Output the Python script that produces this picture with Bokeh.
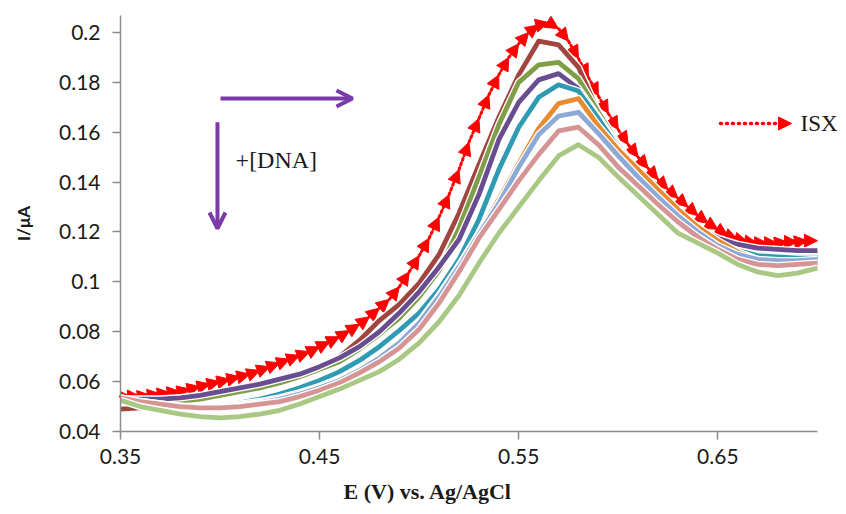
import numpy as np
from bokeh.plotting import figure
from bokeh.models import (ColumnDataSource, Arrow, NormalHead, OpenHead, Label, Title,
                          Range1d, FixedTicker)
from bokeh.embed import file_html
from bokeh.resources import INLINE

# ---------------- data ----------------
x_fine = [round(0.35 + 0.005 * i, 3) for i in range(71)]   # ISX sampled every 5 mV
x_grid = [round(0.35 + 0.01 * i, 2) for i in range(36)]    # DNA titration curves

isx = [0.054, 0.054, 0.054, 0.0545, 0.055, 0.0555, 0.056, 0.057, 0.058, 0.059,
       0.060, 0.061, 0.062, 0.063, 0.0645, 0.066, 0.0675, 0.069, 0.0705, 0.072,
       0.074, 0.076, 0.078, 0.0805, 0.083, 0.086, 0.0895, 0.093, 0.098, 0.104,
       0.1105, 0.1175, 0.126, 0.135, 0.145, 0.156, 0.1655, 0.175, 0.183, 0.190,
       0.1955, 0.200, 0.203, 0.204, 0.2015, 0.1965, 0.1895, 0.182, 0.1745, 0.1675,
       0.161, 0.155, 0.150, 0.1455, 0.141, 0.137, 0.1335, 0.130, 0.1265, 0.1235,
       0.121, 0.1185, 0.117, 0.116, 0.1155, 0.1155, 0.1155, 0.116, 0.116, 0.1165,
       0.1165]

dna1 = [0.049, 0.0495, 0.051, 0.053, 0.054, 0.0555, 0.057, 0.0585, 0.0605, 0.0628,
        0.0658, 0.070, 0.0765, 0.0845, 0.091, 0.0995, 0.111, 0.1275, 0.147, 0.166,
        0.183, 0.1965, 0.195, 0.186, 0.168, 0.154, 0.143, 0.134, 0.127, 0.121,
        0.116, 0.113, 0.111, 0.1105, 0.1105, 0.111]
dna2 = [0.0525, 0.0515, 0.051, 0.052, 0.053, 0.0545, 0.056, 0.0575, 0.0595, 0.062,
        0.065, 0.068, 0.073, 0.079, 0.0855, 0.094, 0.1045, 0.1215, 0.142, 0.163,
        0.180, 0.187, 0.188, 0.1815, 0.168, 0.155, 0.1435, 0.134, 0.126, 0.1205,
        0.116, 0.1125, 0.1105, 0.110, 0.110, 0.110]
dna3 = [0.053, 0.053, 0.053, 0.0535, 0.0545, 0.056, 0.0575, 0.059, 0.061, 0.063,
        0.066, 0.0695, 0.074, 0.080, 0.0875, 0.096, 0.106, 0.117, 0.135, 0.157,
        0.172, 0.181, 0.1835, 0.1775, 0.166, 0.1545, 0.1435, 0.1345, 0.127, 0.1215,
        0.1175, 0.115, 0.1135, 0.113, 0.1125, 0.1125]
dna4 = [0.0525, 0.0515, 0.0505, 0.050, 0.050, 0.0505, 0.0515, 0.053, 0.055, 0.0575,
        0.0605, 0.064, 0.0685, 0.074, 0.0805, 0.0875, 0.097, 0.109, 0.125, 0.145,
        0.162, 0.174, 0.179, 0.1765, 0.1655, 0.1535, 0.1435, 0.134, 0.1265, 0.1205,
        0.1155, 0.1125, 0.1105, 0.110, 0.1095, 0.1095]
dna5 = [0.0535, 0.052, 0.051, 0.050, 0.050, 0.050, 0.051, 0.052, 0.0535, 0.0555,
        0.058, 0.061, 0.065, 0.070, 0.076, 0.084, 0.0945, 0.1065, 0.1195, 0.133,
        0.1475, 0.1615, 0.1715, 0.1735, 0.1625, 0.153, 0.145, 0.137, 0.129, 0.122,
        0.1165, 0.112, 0.109, 0.1075, 0.107, 0.107]
dna6 = [0.053, 0.0515, 0.0505, 0.050, 0.0495, 0.050, 0.0505, 0.0515, 0.053, 0.055,
        0.0575, 0.0605, 0.0645, 0.0695, 0.0755, 0.0835, 0.094, 0.106, 0.119, 0.1315,
        0.146, 0.159, 0.1665, 0.168, 0.1595, 0.1505, 0.142, 0.134, 0.1265, 0.12,
        0.1145, 0.111, 0.109, 0.1085, 0.1085, 0.109]
dna7 = [0.0535, 0.052, 0.051, 0.050, 0.0495, 0.0495, 0.050, 0.051, 0.052, 0.054,
        0.0565, 0.0595, 0.0635, 0.068, 0.0735, 0.081, 0.0915, 0.104, 0.1175, 0.129,
        0.1405, 0.151, 0.1605, 0.162, 0.155, 0.146, 0.1385, 0.131, 0.124, 0.118,
        0.113, 0.109, 0.107, 0.1065, 0.107, 0.1075]
dna8 = [0.0525, 0.050, 0.0485, 0.047, 0.046, 0.0455, 0.046, 0.047, 0.0485, 0.051,
        0.054, 0.057, 0.0605, 0.064, 0.069, 0.0755, 0.084, 0.0945, 0.1075, 0.1195,
        0.130, 0.1405, 0.1505, 0.155, 0.150, 0.142, 0.1345, 0.127, 0.1195, 0.1155,
        0.1115, 0.107, 0.104, 0.1025, 0.1035, 0.1055]

dna_series = [dna1, dna2, dna3, dna4, dna5, dna6, dna7, dna8]
dna_colors = ["#A0453F", "#7F9E47", "#684E91", "#2E9BB3",
              "#E88A2E", "#8DAAD6", "#D49594", "#A9C883"]

x_ticks = [0.35, 0.45, 0.55, 0.65]
x_tick_labels = ["0.35", "0.45", "0.55", "0.65"]
y_ticks = [0.04, 0.06, 0.08, 0.10, 0.12, 0.14, 0.16, 0.18, 0.20]
y_tick_labels = ["0.04", "0.06", "0.08", "0.1", "0.12", "0.14", "0.16", "0.18", "0.2"]

# ---------------- figure ----------------
p = figure(width=846, height=514, output_backend="svg", toolbar_location=None,
           x_range=Range1d(0.35, 0.7146), y_range=Range1d(0.04, 0.2068),
           min_border_left=120, min_border_right=0, min_border_top=15,
           min_border_bottom=83)
p.background_fill_color = "white"
p.border_fill_color = "white"
p.outline_line_color = None
p.xgrid.visible = False
p.ygrid.visible = False

for ax in (p.xaxis[0], p.yaxis[0]):
    ax.axis_line_color = "#8C8C8C"
    ax.axis_line_width = 1.5
    ax.major_tick_line_color = "#8C8C8C"
    ax.major_tick_line_width = 1.5
    ax.major_tick_out = 8
    ax.major_tick_in = 0
    ax.minor_tick_line_color = None
    ax.major_label_text_font = "Lato"
    ax.major_label_text_font_size = "21px"
    ax.major_label_text_color = "#1a1a1a"

p.xaxis.bounds = (0.35, 0.70)
p.xaxis.ticker = FixedTicker(ticks=x_ticks)
p.xaxis.major_label_overrides = dict(zip(x_ticks, x_tick_labels))
p.xaxis.major_label_standoff = 9
p.yaxis.ticker = FixedTicker(ticks=y_ticks)
p.yaxis.major_label_overrides = dict(zip(y_ticks, y_tick_labels))
p.yaxis.major_label_standoff = 12
p.yaxis.axis_label = "I/μA"
p.yaxis.axis_label_text_font = "Lato"
p.yaxis.axis_label_text_font_style = "bold"
p.yaxis.axis_label_text_font_size = "17px"
p.yaxis.axis_label_text_color = "#1a1a1a"
p.yaxis.axis_label_standoff = 22

# x-axis title, placed left of centre as in the original
p.add_layout(Title(text="E (V) vs. Ag/AgCl", align="left", offset=223,
                   text_font="Liberation Serif", text_font_style="bold",
                   text_font_size="22px", text_color="#1a1a1a", standoff=21), "below")

# ISX: dotted red line with an arrowhead at the end of every segment
isx_src = ColumnDataSource(dict(x0=x_fine[:-1], y0=isx[:-1], x1=x_fine[1:], y1=isx[1:]))
p.add_layout(Arrow(end=NormalHead(size=13, fill_color="#FF0000", line_color="#FF0000",
                                  line_width=1),
                   x_start="x0", y_start="y0", x_end="x1", y_end="y1", source=isx_src,
                   line_color="#FF0000", line_width=3, line_dash="2 3", line_cap="round",
                   level="underlay"))

# titration curves, each with a thin white halo
for ys, c in zip(dna_series, dna_colors):
    p.line(x_grid, ys, line_color="white", line_width=7.5, line_join="round")
    p.line(x_grid, ys, line_color=c, line_width=4.8, line_join="round")

# ---------------- annotations ----------------
purple = "#7A3BA8"
p.add_layout(Arrow(end=OpenHead(size=16, line_color=purple, line_width=4),
                   x_start=0.4002, y_start=0.1735, x_end=0.4665, y_end=0.1735,
                   line_color=purple, line_width=4))
p.add_layout(Arrow(end=OpenHead(size=16, line_color=purple, line_width=4),
                   x_start=0.3987, y_start=0.1640, x_end=0.3987, y_end=0.1214,
                   line_color=purple, line_width=4))
p.add_layout(Label(x=0.4078, y=0.1487, text="+[DNA]", text_font="Liberation Serif",
                   text_font_size="24px", text_color="#1a1a1a", text_baseline="middle"))

# legend entry for ISX
p.add_layout(Arrow(end=NormalHead(size=13, fill_color="#FF0000", line_color="#FF0000"),
                   x_start=0.6513, y_start=0.1635, x_end=0.6870, y_end=0.1635,
                   line_color="#FF0000", line_width=3.5, line_dash="1 5", line_cap="round"))
p.add_layout(Label(x=0.6915, y=0.1635, text="ISX", text_font="Liberation Serif",
                   text_font_size="23px", text_color="#1a1a1a", text_baseline="middle"))

open("out.html", "w").write(file_html(p, INLINE))
